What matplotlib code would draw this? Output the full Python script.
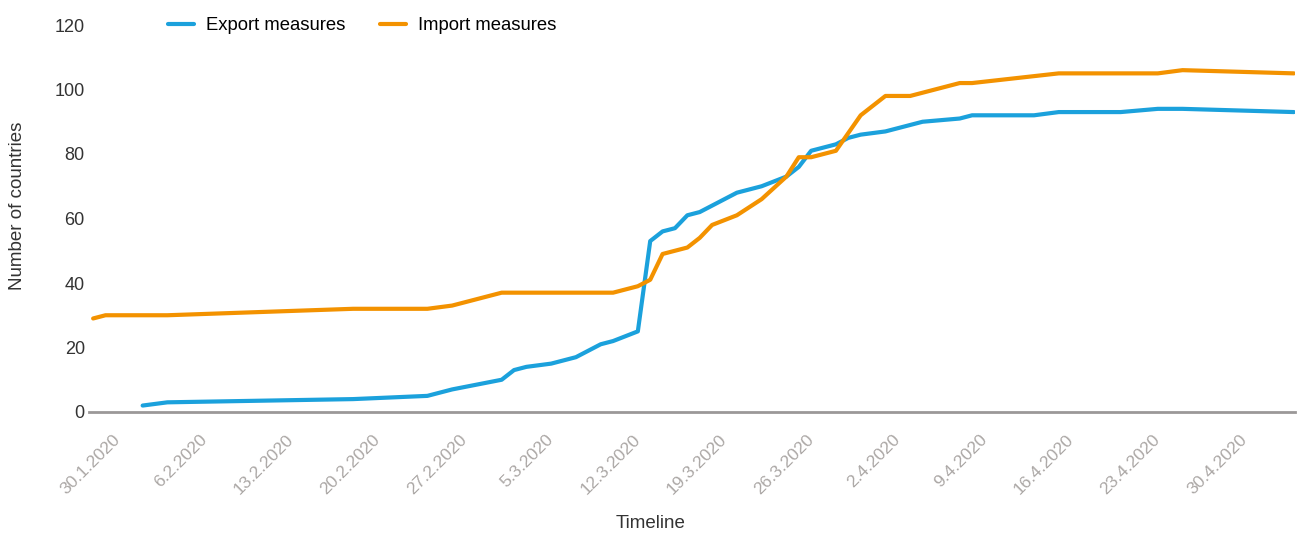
import matplotlib
matplotlib.use('Agg')
import matplotlib.pyplot as plt
import pandas as pd

plt.rcParams['font.family'] = ['Liberation Sans', 'DejaVu Sans']

# export measures (number of countries)
export_dates = ['2020-02-01', '2020-02-03', '2020-02-18', '2020-02-24', '2020-02-26',
                '2020-03-01', '2020-03-02', '2020-03-03', '2020-03-05', '2020-03-07',
                '2020-03-09', '2020-03-10', '2020-03-12', '2020-03-13', '2020-03-14',
                '2020-03-15', '2020-03-16', '2020-03-17', '2020-03-20', '2020-03-22',
                '2020-03-24', '2020-03-25', '2020-03-26', '2020-03-28', '2020-03-29',
                '2020-03-30', '2020-04-01', '2020-04-04', '2020-04-07', '2020-04-08',
                '2020-04-13', '2020-04-15', '2020-04-20', '2020-04-23', '2020-04-25',
                '2020-05-04']
export_vals = [2, 3, 4, 5, 7,
               10, 13, 14, 15, 17,
               21, 22, 25, 53, 56,
               57, 61, 62, 68, 70,
               73, 76, 81, 83, 85,
               86, 87, 90, 91, 92,
               92, 93, 93, 94, 94,
               93]

# import measures (number of countries)
import_dates = ['2020-01-28', '2020-01-29', '2020-02-03', '2020-02-18', '2020-02-24',
                '2020-02-26', '2020-03-01', '2020-03-10', '2020-03-12', '2020-03-13',
                '2020-03-14', '2020-03-16', '2020-03-17', '2020-03-18', '2020-03-20',
                '2020-03-22', '2020-03-24', '2020-03-25', '2020-03-26', '2020-03-28',
                '2020-03-30', '2020-04-01', '2020-04-03', '2020-04-07', '2020-04-08',
                '2020-04-15', '2020-04-23', '2020-04-25', '2020-05-04']
import_vals = [29, 30, 30, 32, 32,
               33, 37, 37, 39, 41,
               49, 51, 54, 58, 61,
               66, 73, 79, 79, 81,
               92, 98, 98, 102, 102,
               105, 105, 106, 105]

tick_dates = pd.date_range('2020-01-30', '2020-04-30', freq='7D')
tick_labels = [f'{d.day}.{d.month}.{d.year}' for d in tick_dates]

blue = '#1ba1dc'
orange = '#f39200'

fig = plt.figure(figsize=(12.98, 5.34), dpi=100)
ax = fig.add_axes([89/1298, 122/534, 1206/1298, 387/534])

ax.plot(pd.to_datetime(export_dates), export_vals, color=blue, lw=3,
        solid_capstyle='round', solid_joinstyle='round', label='Export measures')
ax.plot(pd.to_datetime(import_dates), import_vals, color=orange, lw=3,
        solid_capstyle='round', solid_joinstyle='round', label='Import measures')

ax.set_ylim(0, 120)
ax.set_yticks(range(0, 121, 20))
ax.set_xlim(pd.Timestamp('2020-01-27 16:00'), pd.Timestamp('2020-05-04 02:00'))
ax.set_xticks(tick_dates)
ax.set_xticklabels(tick_labels, rotation=45, ha='right', va='center',
                   rotation_mode='anchor', color='#aba7a5', fontsize=12.5)

for s in ['top', 'right', 'left']:
    ax.spines[s].set_visible(False)
ax.spines['bottom'].set_color('#9b9898')
ax.spines['bottom'].set_linewidth(2)
ax.spines['bottom'].set_zorder(0)
ax.tick_params(axis='x', length=0, pad=18)
ax.tick_params(axis='y', length=0, pad=3, labelsize=13, labelcolor='#333333')

fig.text(18/1298, 1 - 206/534, 'Number of countries', rotation=90,
         ha='center', va='center', fontsize=13.5, color='#333333')
fig.text(651/1298, 1 - 524/534, 'Timeline', ha='center', va='center',
         fontsize=13.5, color='#333333')

ax.legend(loc='center left', bbox_to_anchor=(168/1298, 1 - 26/534),
          bbox_transform=fig.transFigure, ncol=2, frameon=False, fontsize=13.3,
          handlelength=1.4, handletextpad=0.65, columnspacing=1.9,
          borderpad=0, borderaxespad=0)

fig.savefig('out.png', dpi=100)
